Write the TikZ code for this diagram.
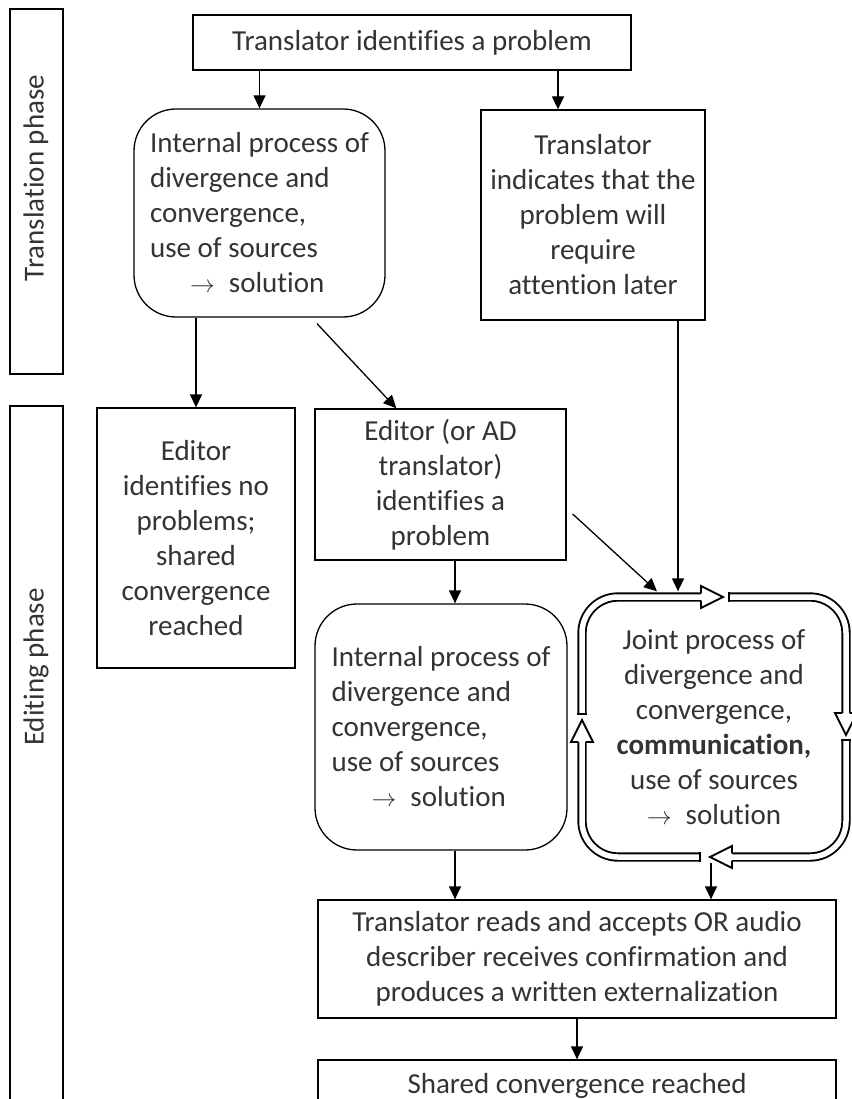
\documentclass[tikz,border=0pt]{standalone}
\usepackage{fontspec}
\setmainfont[Ligatures=NoCommon]{Carlito}
\usetikzlibrary{arrows.meta}

\tikzset{
  box/.style={draw, line width=1.3pt, inner sep=0pt, align=center, text=black!80,
    font=\fontsize{29}{35}\selectfont},
  rbox/.style={box, rounded corners=42pt},
  arr/.style={-{Triangle[length=13pt,width=12pt]}, line width=1.3pt},
  loopline/.style={double=white, double distance=5.5pt, line width=1.9pt, rounded corners=36pt},
}

% hollow head of the loop arrows: position, angle
\newcommand{\hollowtip}[3]{%
  \begin{scope}[shift={(#1,#2)}, rotate=#3]
    \fill[white] (-22pt,-11pt) -- (0pt,0pt) -- (-22pt,11pt) -- cycle;
    \draw[line width=1.9pt, line join=miter] (-22pt,3.7pt) -- (-22pt,11pt) -- (0pt,0pt)
      -- (-22pt,-11pt) -- (-22pt,-3.7pt);
  \end{scope}}

\begin{document}
\begin{tikzpicture}[x=1pt, y=-1pt]
\useasboundingbox (0,0) rectangle (851,1099);

% phases
\draw[line width=1.3pt] (10,9) rectangle (63,374);
\draw[line width=1.3pt] (10,1110) |- (63,406) -- (63,1110);
\node[box, draw=none, rotate=90] (tphase) at (36,178) {Translation phase};
\node[box, draw=none, rotate=90] (ephase) at (36,667) {Editing phase};

% boxes
\node[box, minimum width=438, minimum height=55] (top) at (412,42.5) {Translator identifies a problem};
\node[rbox, align=left, minimum width=251, minimum height=208] (box1) at (259.5,213)
  {Internal process of\\divergence and\\convergence,\\use of sources\\\hspace*{40pt}$\rightarrow$\hspace{14pt}solution};
\node[box, minimum width=224, minimum height=210] (rbox) at (593,215)
  {Translator\\indicates that the\\problem will\\require\\attention later};
\node[box, minimum width=198, minimum height=260] (eno) at (196,538)
  {Editor\\identifies no\\problems;\\shared\\convergence\\reached};
\node[box, minimum width=251, minimum height=151] (ead) at (440.5,484.5)
  {Editor (or AD\\translator)\\identifies a\\problem};
\node[rbox, align=left, minimum width=252, minimum height=246] (box2) at (441,727)
  {Internal process of\\divergence and\\convergence,\\use of sources\\\hspace*{40pt}$\rightarrow$\hspace{14pt}solution};
\node[box, draw=none, minimum width=274, minimum height=270] (joint) at (714,727)
  {Joint process of\\divergence and\\convergence,\\\textbf{communication,}\\use of sources\\$\rightarrow$\hspace{14pt}solution};
\node[box, minimum width=518, minimum height=118] (bottom) at (577,959)
  {Translator reads and accepts OR audio\\describer receives confirmation and\\produces a written externalization};
\node[box, minimum width=518, minimum height=52] (final) at (577,1086) {Shared convergence reached};

% loop round the joint process
\draw[loopline] (582,714) -- (582,597) -- (701,597);
\draw[loopline] (729,597) -- (846,597) -- (846,713);
\draw[loopline] (846,740) -- (846,857) -- (732,857);
\draw[loopline] (700,857) -- (582,857) -- (582,742);
\foreach \x/\y/\a in {723/597/0, 846/735/-90, 710/857/180, 582/720/90}{
  \hollowtip{\x}{\y}{\a}}
\foreach \x/\y/\a in {582/714/90, 729/597/0, 846/740/-90, 700/857/180}{
  \draw[line width=1.9pt, shift={(\x,\y)}, rotate=\a] (0pt,-4.7pt) -- (0pt,4.7pt);}

% connectors
\coordinate (xr) at (558,0);
\coordinate (xj) at (678,0);
\coordinate (xd) at (657,0);
\coordinate (xm) at (455,0);
\coordinate (xo) at (711,0);

\draw[arr] (top.south -| box1.north) -- (box1.north);
\draw[arr] (top.south -| xr) -- (rbox.north -| xr);
\draw[arr] (box1.south -| eno.north) -- (eno.north);
\draw[arr] ([shift={(57.5pt,-6pt)}]box1.south) -- ([xshift=82pt]ead.north west);
\draw[arr] (rbox.south -| xj) -- (joint.north -| xj);
\draw[arr] ([shift={(6pt,-29.5pt)}]ead.east) -- (joint.north -| xd);
\draw[arr] (ead.south -| xm) -- (box2.north -| xm);
\draw[arr] (box2.south -| xm) -- (bottom.north -| xm);
\draw[arr] (joint.south -| xo) -- (bottom.north -| xo);
\draw[arr] (bottom.south) -- (final.north);

\end{tikzpicture}
\end{document}
